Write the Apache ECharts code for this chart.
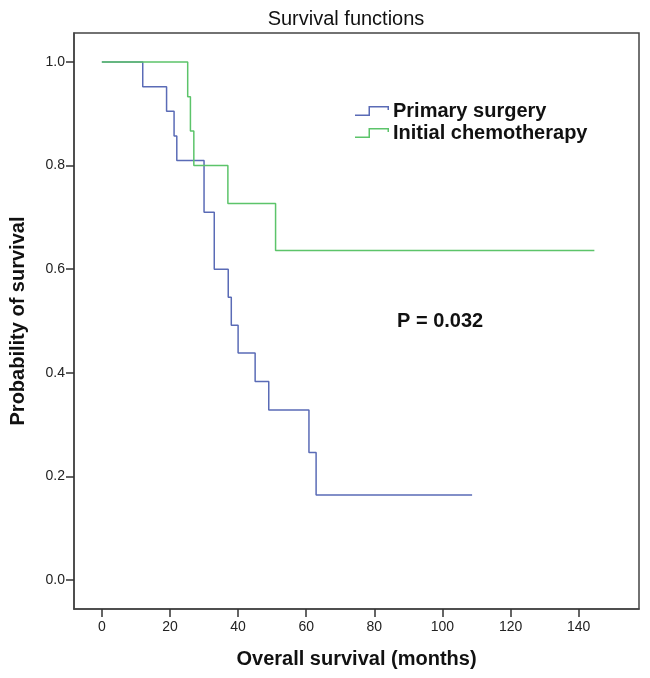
<!DOCTYPE html>
<html>
<head>
<meta charset="utf-8">
<title>Survival functions</title>
<script src="https://cdn.jsdelivr.net/npm/echarts@6/dist/echarts.min.js"></script>
<style>
  html, body { margin: 0; padding: 0; background: #fff; }
  #chart { width: 650px; height: 678px; }
</style>
</head>
<body>
<div id="chart"></div>
<script>
// Kaplan-Meier curves (months, survival probability)
const surgeryTimes = [0, 12, 19, 21.2, 22, 30, 33, 37.1, 38, 40, 45, 49, 60.8, 62.9, 108.7];
const surgerySurv = [1, 0.952, 0.905, 0.857, 0.810, 0.710, 0.600, 0.546, 0.492, 0.438, 0.383, 0.328, 0.246, 0.164, 0.164];

const chemoTimes = [0, 25.2, 26, 27, 37, 51, 144.6];
const chemoSurv = [1, 0.933, 0.867, 0.800, 0.727, 0.636, 0.636];

const xTicks = [0, 20, 40, 60, 80, 100, 120, 140];
const yTicks = [0, 0.2, 0.4, 0.6, 0.8, 1.0];

const seriesNames = ['Primary surgery', 'Initial chemotherapy'];
const pValueText = 'P = 0.032';

const FONT = '"Liberation Sans", Arial, sans-serif';
const BLUE = '#5a6bb6';
const GREEN = '#5cc46a';

function pairs(xs, ys) {
    return xs.map((x, i) => [x, ys[i]]);
}

// little step-shaped icon like the SPSS legend
const stepIcon = 'path://M0,8.5 L13.5,8.5 L13.5,0 L34,0 L34,4 L32.5,4 L32.5,1.5 L15,1.5 L15,10 L0,10 Z';

const myChart = echarts.init(document.getElementById('chart'));

const option = {
    backgroundColor: '#fff',
    animation: false,
    title: {
        text: 'Survival functions',
        left: 341,
        top: 4,
        textAlign: 'center',
        textStyle: {
            fontFamily: FONT,
            fontSize: 20,
            fontWeight: 'normal',
            color: '#111',
        },
    },
    legend: {
        data: seriesNames,
        orient: 'vertical',
        left: 355,
        top: 101,
        padding: 0,
        itemGap: 2,
        itemWidth: 34,
        itemHeight: 10,
        icon: stepIcon,
        textStyle: {
            fontFamily: FONT,
            fontSize: 20,
            fontWeight: 'bold',
            lineHeight: 20,
            color: '#111',
            padding: [0, 0, 0, -1],
        },
    },
    grid: {
        left: 71,
        right: 11,
        top: 33,
        bottom: 69,
        show: true,
        borderColor: '#444',
        borderWidth: 1.5,
        containLabel: false,
    },
    xAxis: {
        type: 'value',
        min: -8.18,
        max: 157.7,
        name: 'Overall survival (months)',
        nameLocation: 'middle',
        nameGap: 40,
        nameTextStyle: {
            fontFamily: FONT,
            fontSize: 20,
            fontWeight: 'bold',
            color: '#111',
        },
        axisLine: { show: true, onZero: false, lineStyle: { color: '#444', width: 1.5 } },
        axisTick: {
            show: true,
            inside: false,
            length: 8,
            customValues: xTicks,
            lineStyle: { color: '#333', width: 1.5 },
        },
        axisLabel: {
            customValues: xTicks,
            margin: 11,
            fontFamily: FONT,
            fontSize: 14,
            color: '#222',
        },
        splitLine: { show: false },
    },
    yAxis: {
        type: 'value',
        min: -0.056,
        max: 1.056,
        name: 'Probability of survival',
        nameLocation: 'middle',
        nameGap: 46,
        nameTextStyle: {
            fontFamily: FONT,
            fontSize: 20,
            fontWeight: 'bold',
            color: '#111',
        },
        axisLine: { show: true, onZero: false, lineStyle: { color: '#444', width: 1.5 } },
        axisTick: {
            show: true,
            inside: false,
            length: 8,
            customValues: yTicks,
            lineStyle: { color: '#333', width: 1.5 },
        },
        axisLabel: {
            customValues: yTicks,
            margin: 9,
            fontFamily: FONT,
            fontSize: 14,
            color: '#222',
            formatter: (v) => v.toFixed(1),
        },
        splitLine: { show: false },
    },
    graphic: [
        {
            type: 'text',
            left: 397,
            top: 311,
            style: {
                text: pValueText,
                font: 'bold 20px ' + FONT,
                fill: '#111',
            },
        },
    ],
    series: [
        {
            name: seriesNames[0],
            type: 'line',
            step: 'end',
            showSymbol: false,
            data: pairs(surgeryTimes, surgerySurv),
            itemStyle: { color: BLUE },
            lineStyle: { color: BLUE, width: 1.5 },
        },
        {
            name: seriesNames[1],
            type: 'line',
            step: 'end',
            showSymbol: false,
            data: pairs(chemoTimes, chemoSurv),
            itemStyle: { color: GREEN },
            lineStyle: { color: GREEN, width: 1.5 },
        },
    ],
};

myChart.setOption(option);
</script>
</body>
</html>
